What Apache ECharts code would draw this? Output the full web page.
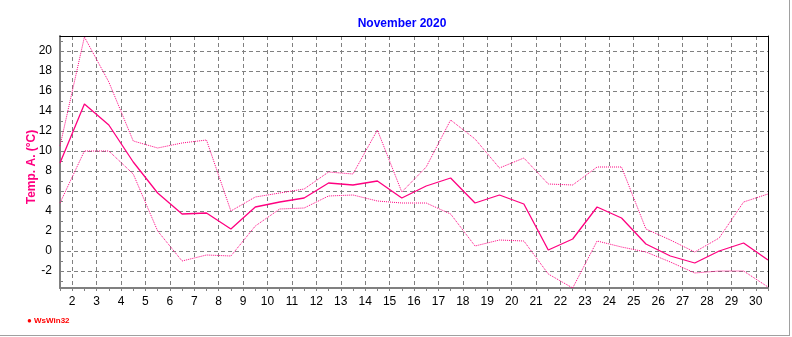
<!DOCTYPE html>
<html><head><meta charset="utf-8">
<script src="https://cdn.jsdelivr.net/npm/echarts@6/dist/echarts.min.js"></script>
<style>html,body{margin:0;padding:0;background:#fff}#c{width:792px;height:337px}</style>
</head><body><div id="c"></div>
<script>
// Days of November 2020 (vertex for day d drawn at d+0.5)
const days = [1,2,3,4,5,6,7,8,9,10,11,12,13,14,15,16,17,18,19,20,21,22,23,24,25,26,27,28,29,30];
const tempMax  = [10.5,21.4,16.9,11.0,10.3,10.8,11.1,4.0,5.4,5.8,6.2,7.9,7.7,12.1,5.9,8.4,13.1,11.2,8.3,9.3,6.7,6.6,8.4,8.4,2.2,1.1,-0.1,1.3,4.9,5.7];
const tempMean = [8.8,14.7,12.6,8.9,5.8,3.7,3.8,2.2,4.4,4.9,5.3,6.8,6.6,7.0,5.3,6.5,7.3,4.8,5.6,4.7,0.1,1.2,4.4,3.3,0.7,-0.5,-1.2,0.0,0.8,-0.9];
const tempMin  = [4.8,10.0,10.0,7.7,2.0,-1.0,-0.4,-0.5,2.5,4.2,4.3,5.5,5.6,5.0,4.8,4.8,3.7,0.5,1.1,1.0,-2.3,-3.7,1.0,0.4,-0.1,-1.1,-2.2,-2.0,-2.0,-3.6];
const xLabels = [2,3,4,5,6,7,8,9,10,11,12,13,14,15,16,17,18,19,20,21,22,23,24,25,26,27,28,29,30];
const yLabels = [-2,0,2,4,6,8,10,12,14,16,18,20];
const yMinorTicks = [-3,-2,-1,0,1,2,3,4,5,6,7,8,9,10,11,12,13,14,15,16,17,18,19,20,21];

const X_MIN = 1.5, X_MAX = 30.5, Y_MIN = -3.7, Y_MAX = 21.5;
const PINK = '#ff0080';

// half-day categories from 1.5 to 30.5 for the visible x axis
const halfCats = [];
for (let v = X_MIN; v <= X_MAX + 1e-9; v += 0.5) halfCats.push(Number.isInteger(v) && xLabels.includes(v) ? String(v) : '');
const isLabelIdx = (i) => halfCats[i] !== '';

const mk = (arr) => days.map((d, i) => [d + 0.5, arr[i]]);

const chart = echarts.init(document.getElementById('c'), null, {renderer: 'canvas'});
chart.setOption({
  animation: false,
  backgroundColor: '#fff',
  title: {
    text: 'November 2020', left: 397, top: 13, textAlign: 'center',
    textStyle: {color: '#0000ff', fontSize: 12, fontWeight: 'bold', fontFamily: 'Liberation Sans, Arial, sans-serif'}
  },
  grid: {left: 60, right: 24, top: 36, bottom: 49, containLabel: false},
  xAxis: [
    {
      type: 'category', data: halfCats, boundaryGap: false, position: 'bottom',
      axisLine: {show: true, onZero: false, lineStyle: {color: '#808080', width: 2}},
      axisTick: {show: true, length: 3, interval: 0, lineStyle: {color: '#808080'}},
      axisLabel: {show: true, interval: (i) => isLabelIdx(i), margin: 8, color: '#000', fontSize: 12, fontFamily: 'Liberation Sans, Arial, sans-serif'},
      splitLine: {show: true, interval: (i) => isLabelIdx(i), lineStyle: {color: '#808080', type: [4, 3], width: 1}}
    },
    {
      type: 'value', min: X_MIN, max: X_MAX, position: 'top',
      axisLine: {show: true, onZero: false, lineStyle: {color: '#000', width: 1}},
      axisTick: {show: false}, axisLabel: {show: false}, splitLine: {show: false}
    }
  ],
  yAxis: [
    {
      type: 'value', min: Y_MIN, max: Y_MAX, position: 'left',
      axisLine: {show: true, onZero: false, lineStyle: {color: '#808080', width: 2}},
      axisTick: {show: true, inside: true, length: 3, customValues: yMinorTicks, lineStyle: {color: '#808080'}},
      axisLabel: {show: true, customValues: yLabels, margin: 8, color: '#000', fontSize: 12, fontFamily: 'Liberation Sans, Arial, sans-serif'},
      splitLine: {show: false}
    },
    {
      type: 'value', min: Y_MIN, max: Y_MAX, position: 'right',
      axisLine: {show: true, onZero: false, lineStyle: {color: '#000', width: 1}},
      axisTick: {show: false, customValues: yLabels},
      axisLabel: {show: false, customValues: yLabels},
      splitLine: {show: true, lineStyle: {color: '#808080', type: [4, 3], width: 1}}
    }
  ],
  series: [
    {type: 'line', name: 'max', xAxisIndex: 1, yAxisIndex: 0, data: mk(tempMax), symbol: 'none', lineStyle: {color: PINK, width: 1, type: [1, 1]}},
    {type: 'line', name: 'mean', xAxisIndex: 1, yAxisIndex: 0, data: mk(tempMean), symbol: 'none', lineStyle: {color: PINK, width: 1.3}},
    {type: 'line', name: 'min', xAxisIndex: 1, yAxisIndex: 0, data: mk(tempMin), symbol: 'none', lineStyle: {color: PINK, width: 1, type: [1, 1]}}
  ],
  graphic: [
    {type: 'text', x: 32, y: 167, rotation: Math.PI / 2, style: {text: 'Temp. A. (°C)', fill: PINK, font: 'bold 12px "Liberation Sans", Arial, sans-serif', textAlign: 'center', textVerticalAlign: 'middle'}},
    {type: 'text', x: 27, y: 321, style: {text: '● WsWin32', fill: '#ff0000', font: 'bold 8px "Liberation Sans", Arial, sans-serif', textVerticalAlign: 'middle'}},
    {type: 'line', shape: {x1: 789.5, y1: 0, x2: 789.5, y2: 335.5}, style: {stroke: '#a0a0a0', lineWidth: 1}},
    {type: 'line', shape: {x1: 0, y1: 335.5, x2: 790, y2: 335.5}, style: {stroke: '#a0a0a0', lineWidth: 1}}
  ]
});
</script></body></html>
